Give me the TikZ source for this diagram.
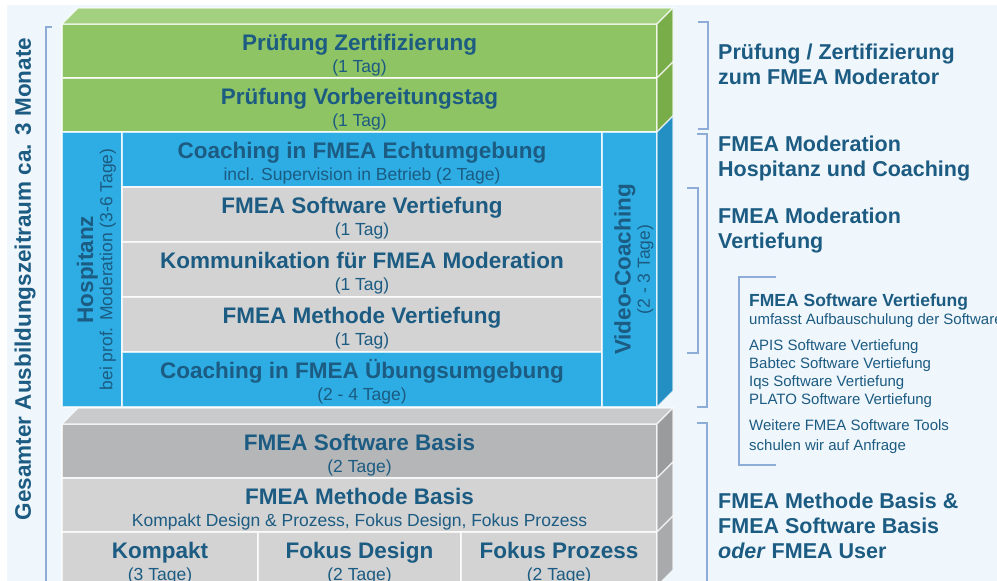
\documentclass[tikz,border=0pt]{standalone}
\usepackage{fontspec}
\setmainfont{Liberation Sans}
\usepackage{tikz}
\usetikzlibrary{positioning}

\definecolor{fmeatext}{HTML}{1C5B82}
\definecolor{fmeabg}{HTML}{EFF6FC}
\definecolor{fmeabracket}{HTML}{8EACD8}
\definecolor{fmeagreen}{HTML}{8EC463}
\definecolor{fmeagreentop}{HTML}{A3D07F}
\definecolor{fmeagreenside}{HTML}{79AD49}
\definecolor{fmeablue}{HTML}{2DADE3}
\definecolor{fmeablueside}{HTML}{238FC3}
\definecolor{fmeagray}{HTML}{D3D3D3}
\definecolor{fmeadarkgray}{HTML}{B5B6B8}
\definecolor{fmeagraytop}{HTML}{C9CACB}
\definecolor{fmeagrayside}{HTML}{A9AAAC}
\definecolor{fmeadarkside}{HTML}{9A9B9D}

\tikzset{%
    stack/.style={draw=white, draw opacity=0.75, line width=1.6pt, rectangle, inner sep=0pt, outer sep=0pt,
        align=center, text=fmeatext},
    rowbox/.style={stack, font=\fontsize{17.5}{22.3}\selectfont, text height=46.3pt, minimum height=54pt},
    greenbox/.style={rowbox, fill=fmeagreen, minimum width=595pt},
    bluebox/.style={rowbox, fill=fmeablue, minimum width=480pt, minimum height=55pt},
    innerbox/.style={rowbox, fill=fmeagray, minimum width=480pt, minimum height=55pt},
    basebox/.style={rowbox, fill=fmeagray, minimum width=595pt},
    sidebox/.style={stack, fill=fmeablue, rotate=90, minimum width=275pt, text height=44.3pt,
        font=\fontsize{17.5}{19.3}\selectfont},
    face/.style={draw=white, draw opacity=0.75, line width=1.2pt},
    heading/.style={anchor=base west, inner sep=0pt, align=left, text=fmeatext,
        font=\fontsize{21.5}{25}\selectfont\bfseries},
    small/.style={anchor=base west, inner sep=0pt, align=left, text=fmeatext, font=\fontsize{15}{18}\selectfont},
    bracket/.style={draw=fmeabracket, line width=1.3pt},
}
\newcommand{\boxlabel}[2]{{\fontsize{22.5}{22.3}\selectfont\bfseries #1}\\#2}

\begin{document}
\begin{tikzpicture}[x=1pt,y=-1pt]
	\clip (0,0) rectangle (997,581);
	\fill[white] (0,0) rectangle (997,581);
	\fill[fmeabg] (7,5) rectangle (997,581);

	% Pruefung
	\node[greenbox] (z1) at (359.5,51) {\boxlabel{Prüfung Zertifizierung}{(1 Tag)}};
	\node[greenbox] (z2) at (359.5,105) {\boxlabel{Prüfung Vorbereitungstag}{(1 Tag)}};

	% Moderation
	\node[sidebox, minimum height=60pt] (hosp) at (92,269.5) {{\fontsize{22.5}{19.3}\selectfont\bfseries Hospitanz}\\bei prof. Moderation (3-6 Tage)};
	\node[bluebox] (echt) at (362,159.5) {\boxlabel{Coaching in FMEA Echtumgebung}{incl. Supervision in Betrieb (2 Tage)}};
	\node[innerbox] (swv) at (362,214.5) {\boxlabel{FMEA Software Vertiefung}{(1 Tag)}};
	\node[innerbox] (komm) at (362,269.5) {\boxlabel{Kommunikation für FMEA Moderation}{(1 Tag)}};
	\node[innerbox] (mv) at (362,324.5) {\boxlabel{FMEA Methode Vertiefung}{(1 Tag)}};
	\node[bluebox] (ueb) at (362,379.5) {\boxlabel{Coaching in FMEA Übungsumgebung}{(2 - 4 Tage)}};
	\node[sidebox, minimum height=55pt] (vc) at (629.5,269.5) {{\fontsize{22.5}{19.3}\selectfont\bfseries Video-Coaching}\\(2 - 3 Tage)};

	% Basis
	\node[basebox, fill=fmeadarkgray] (sb) at (359.5,451) {\boxlabel{FMEA Software Basis}{(2 Tage)}};
	\node[basebox] (mb) at (359.5,505) {\boxlabel{FMEA Methode Basis}{Kompakt Design \& Prozess, Fokus Design, Fokus Prozess}};
	\node[basebox, minimum width=196pt] (kp) at (160,559) {\boxlabel{Kompakt}{(3 Tage)}};
	\node[basebox, minimum width=203pt] (fd) at (359.5,559) {\boxlabel{Fokus Design}{(2 Tage)}};
	\node[basebox, minimum width=196pt] (fp) at (559,559) {\boxlabel{Fokus Prozess}{(2 Tage)}};

	% top and side faces (vc is turned, so its right side runs from south east to south west)
	\filldraw[face, fill=fmeagreentop] (z1.north west) -- ++(16,-16) -- ([shift={(16,-16)}]z1.north east) -- (z1.north east) -- cycle;
	\filldraw[face, fill=fmeagreenside] (z1.north east) -- ++(16,-16) -- ([shift={(16,-16)}]z1.south east) -- (z1.south east) -- cycle;
	\filldraw[face, fill=fmeagreenside] (z2.north east) -- ++(16,-16) -- ([shift={(16,-16)}]z2.south east) -- (z2.south east) -- cycle;
	\filldraw[face, fill=fmeablueside] (vc.south east) -- ++(16,-16) -- ([shift={(16,-16)}]vc.south west) -- (vc.south west) -- cycle;
	\filldraw[face, fill=fmeagraytop] (sb.north west) -- ++(16,-16) -- ([shift={(16,-16)}]sb.north east) -- (sb.north east) -- cycle;
	\filldraw[face, fill=fmeadarkside] (sb.north east) -- ++(16,-16) -- ([shift={(16,-16)}]sb.south east) -- (sb.south east) -- cycle;
	\filldraw[face, fill=fmeagrayside] (mb.north east) -- ++(16,-16) -- ([shift={(16,-16)}]mb.south east) -- (mb.south east) -- cycle;
	\filldraw[face, fill=fmeagrayside] (fp.north east) -- ++(16,-16) -- ([shift={(16,-16)}]fp.south east) -- (fp.south east) -- cycle;

	% left label
	\node[rotate=90, text=fmeatext, font=\fontsize{22.5}{25}\selectfont\bfseries] (gesamt) at (25,279) {Gesamter Ausbildungszeitraum ca. 3 Monate};
	\draw[bracket] (52,27) -- (46,27) -- (46,590);

	% right side
	\node[heading] (h1) at (718,84.7) {Prüfung / Zertifizierung\\zum FMEA Moderator};
	\node[heading] (h2) at (718,176.7) {FMEA Moderation\\Hospitanz und Coaching};
	\node[heading] (h3) at (718,248.7) {FMEA Moderation\\Vertiefung};
	\node[heading] (h4) at (718,558.7) {FMEA Methode Basis \&\\FMEA Software Basis\\\textit{oder} FMEA User};

	\node[small] (sv) at (749,324.4) {{\fontsize{17.5}{18}\selectfont\bfseries FMEA Software Vertiefung}\\umfasst Aufbauschulung der Software};
	\node[small] (tools) at (749,404.4) {APIS Software Vertiefung\\Babtec Software Vertiefung\\Iqs Software Vertiefung\\PLATO Software Vertiefung};
	\node[small, font=\fontsize{15}{20}\selectfont] (more) at (749,450.4) {Weitere FMEA Software Tools\\schulen wir auf Anfrage};

	\draw[bracket] (698,22) -- (708,22) -- (708,129) -- (698,129);
	\draw[bracket] (697,134) -- (707,134) -- (707,407) -- (697,407);
	\draw[bracket] (687,188) -- (698,188) -- (698,353) -- (687,353);
	\draw[bracket] (697,423) -- (707,423) -- (707,590);
	\draw[bracket] (776,277) -- (739,277) -- (739,465) -- (776,465);
\end{tikzpicture}
\end{document}
